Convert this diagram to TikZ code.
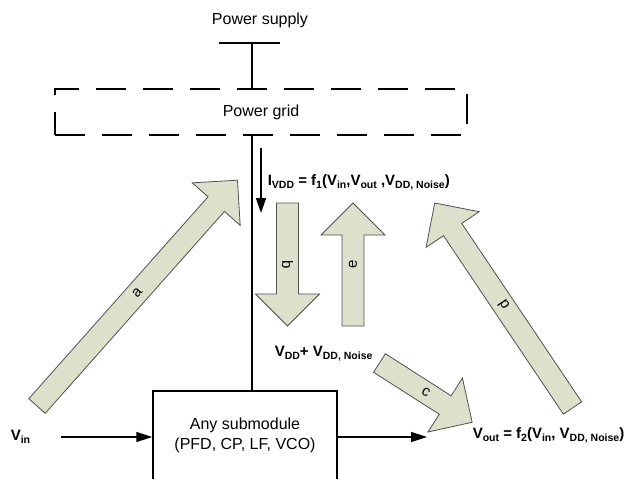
\documentclass[tikz,border=0pt]{standalone}
\usepackage{fontspec}
\setmainfont{Liberation Sans}
\usetikzlibrary{arrows.meta}
\definecolor{blkfill}{RGB}{221,225,204}
\definecolor{blkline}{RGB}{80,80,80}
\newcommand{\sbs}[1]{\raisebox{-0.35ex}{\fontsize{10.5}{12}\selectfont\bfseries #1}}
% #1 name, #2 tail centre, #3 angle, #4 total length, #5 label
\newcommand{\blockarrow}[5]{%
  \begin{scope}[shift={#2}, rotate=#3]
    \draw[blkarrow] (0,-11) -- ({#4-32},-11) -- ({#4-32},-32) -- (#4,0)
      -- ({#4-32},32) -- ({#4-32},11) -- (0,11) -- cycle;
    \node[blklabel, rotate=#3] (#1) at ({#4/2},0) {#5};
  \end{scope}}
\begin{document}
\begin{tikzpicture}[x=1pt,y=-1pt,line width=1.5pt,
  txt/.style={inner sep=0pt, font=\fontsize{16}{20}\selectfont},
  btxt/.style={inner sep=0pt, font=\fontsize{15}{18}\selectfont\bfseries},
  gridbox/.style={draw, dash pattern=on 30pt off 17pt, line width=2pt,
    minimum width=412pt, minimum height=46pt, inner sep=0pt,
    font=\fontsize{16}{20}\selectfont},
  modbox/.style={draw, line width=1.5pt, minimum width=184pt, minimum height=140pt},
  blkarrow/.style={draw=blkline, fill=blkfill, line width=0.8pt, line join=miter},
  blklabel/.style={inner sep=0pt, font=\fontsize{15}{18}\selectfont},
  conn/.style={-{Triangle[length=16pt,width=10pt]}}]

\useasboundingbox (0,0) rectangle (624,479);
\clip (0,0) rectangle (624,479);

% power supply and grid
\node[txt] (ps) at (260,20) {Power supply};
\coordinate (barL) at (219,43);
\coordinate (barR) at (280,43);
\coordinate (psbar) at (252,43);
\node[gridbox] (grid) at (261,112) {Power grid};
\draw (barL) -- (barR);
\draw (psbar) -- (psbar |- grid.north);

% submodule
\node[modbox] (sub) at (245,461) {};
\node[txt, align=center] (subtxt) at (245,435) {Any submodule\\(PFD, CP, LF, VCO)};
\draw (grid.south -| psbar) -- (sub.north -| psbar);

% current arrow
\coordinate (iTop) at (261,148);
\coordinate (iBot) at (261,213);
\draw[-{Triangle[length=15pt,width=10pt]}] (iTop) -- (iBot);

% texts
\node[btxt, anchor=west] (ivdd) at (267,182) {I\sbs{VDD} = f\sbs{1}(V\sbs{in},V\sbs{out} ,V\sbs{DD, Noise})};
\node[btxt, anchor=west] (vdd) at (274,354) {V\sbs{DD}+ V\sbs{DD, Noise}};
\node[btxt, anchor=west] (vin) at (10,437) {V\sbs{in}};
\node[btxt, anchor=west] (vout) at (472,435) {V\sbs{out} = f\sbs{2}(V\sbs{in}, V\sbs{DD, Noise})};

% input / output connectors
\coordinate (vinStart) at (61,437);
\coordinate (outEnd) at (427,437);
\draw[conn] (vinStart) -- (vinStart -| sub.west);
\draw[conn] (outEnd -| sub.east) -- (outEnd);

% block arrows
\blockarrow{a}{(37,406)}{48.4}{302}{a}
\blockarrow{b}{(287.5,203)}{-90}{123}{b}
\blockarrow{e}{(353,326)}{90}{123}{e}
\blockarrow{d}{(572.5,408)}{123.9}{247}{d}
\blockarrow{c}{(379.5,363)}{-32.6}{110}{c}
\end{tikzpicture}
\end{document}
